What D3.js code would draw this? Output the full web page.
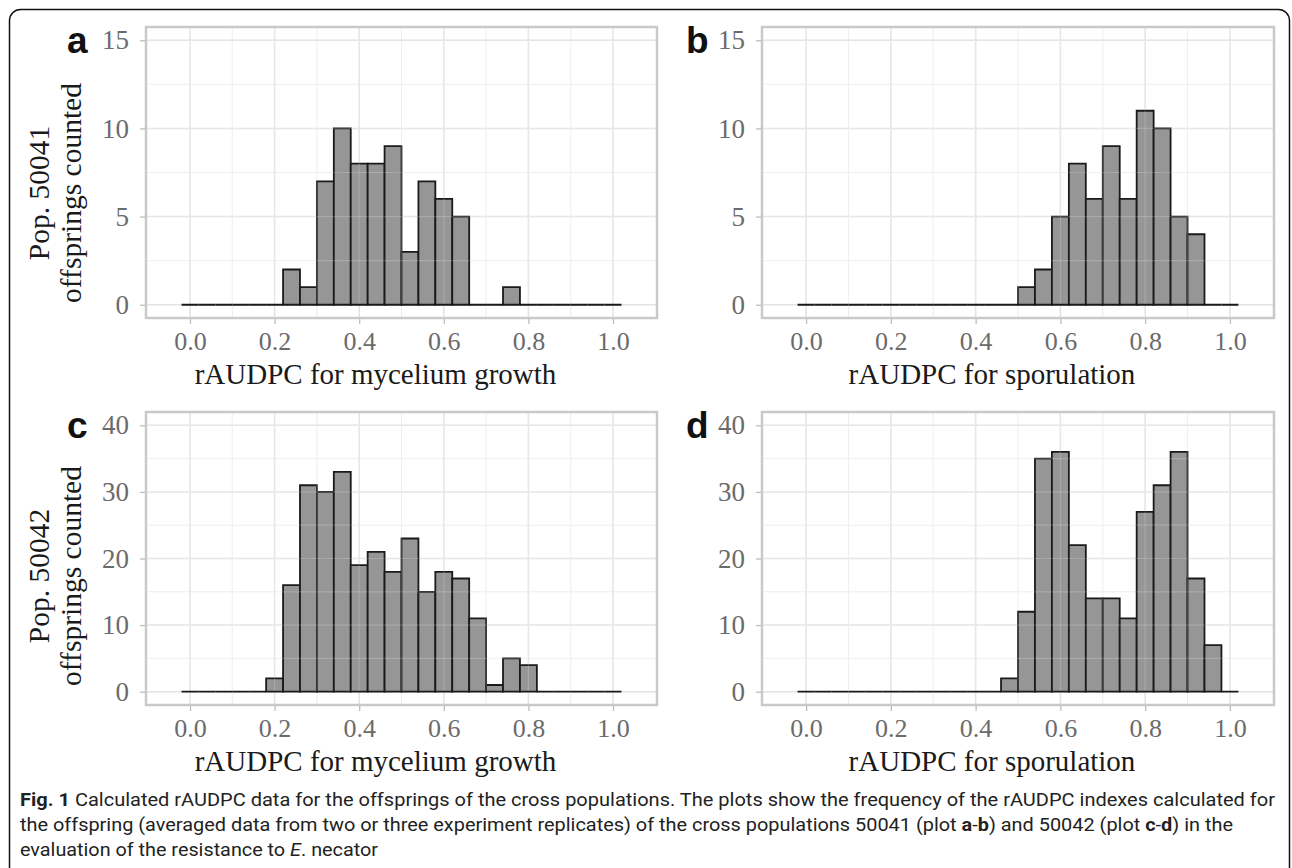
<!DOCTYPE html>
<html>
<head>
<meta charset="utf-8">
<script src="https://cdn.jsdelivr.net/npm/d3@7"></script>
<style>
  body { margin: 0; background: #fff; }
  svg { display: block; }
</style>
</head>
<body>
<div id="chart"></div>
<script>
// histogram bins: centres 0.00 .. 1.00, width 0.04
var binCenters = [0.00, 0.04, 0.08, 0.12, 0.16, 0.20, 0.24, 0.28, 0.32, 0.36, 0.40, 0.44, 0.48,
                  0.52, 0.56, 0.60, 0.64, 0.68, 0.72, 0.76, 0.80, 0.84, 0.88, 0.92, 0.96, 1.00];
var binWidth = 0.04;

// counts per bin
var countsA = [0,0,0,0,0,0,2,1,7,10,8,8,9,3,7,6,5,0,0,1,0,0,0,0,0,0];
var countsB = [0,0,0,0,0,0,0,0,0,0,0,0,0,1,2,5,8,6,9,6,11,10,5,4,0,0];
var countsC = [0,0,0,0,0,2,16,31,30,33,19,21,18,23,15,18,17,11,1,5,4,0,0,0,0,0];
var countsD = [0,0,0,0,0,0,0,0,0,0,0,0,2,12,35,36,22,14,14,11,27,31,36,17,7,0];

var xTicks = [0, 0.2, 0.4, 0.6, 0.8, 1.0];
var xMinor = [0.1, 0.3, 0.5, 0.7, 0.9];
var yTicksTop = [0, 5, 10, 15];
var yTicksBottom = [0, 10, 20, 30, 40];

var panelLetters = ["a", "b", "c", "d"];
var xTitles = ["rAUDPC for mycelium growth", "rAUDPC for sporulation"];
var yTitles = [["Pop. 50041", "offsprings counted"], ["Pop. 50042", "offsprings counted"]];

var width = 1292, height = 868;

var svg = d3.select("#chart").append("svg")
  .attr("width", width)
  .attr("height", height);

// outer frame
svg.append("rect")
  .attr("x", 9.5).attr("y", 9.5)
  .attr("width", 1280).attr("height", 920)
  .attr("rx", 11)
  .style("fill", "none")
  .style("stroke", "#111")
  .style("stroke-width", 1.5);

var serif = "'Liberation Serif', 'Times New Roman', serif";

var cols = [{left: 146, right: 657}, {left: 762, right: 1274}];
var rows = [{top: 27, bottom: 318, max: 15, ticks: yTicksTop, minorStep: 2.5, ytitle: 193},
            {top: 412, bottom: 705, max: 40, ticks: yTicksBottom, minorStep: 5, ytitle: 576}];

var panels = [
  {col: 0, row: 0, counts: countsA, letter: panelLetters[0]},
  {col: 1, row: 0, counts: countsB, letter: panelLetters[1]},
  {col: 0, row: 1, counts: countsC, letter: panelLetters[2]},
  {col: 1, row: 1, counts: countsD, letter: panelLetters[3]}
];

panels.forEach(function(p) {
  var c = cols[p.col], r = rows[p.row];

  var x = d3.scaleLinear()
    .domain([-0.104, 1.104])
    .range([c.left, c.right]);

  var pad = r.max * 0.05;
  var y = d3.scaleLinear()
    .domain([-pad, r.max + pad])
    .range([r.bottom, r.top]);

  var g = svg.append("g");

  // minor grid
  var yMinor = d3.range(r.minorStep, r.max, r.minorStep * 2);
  g.selectAll(".vminor").data(xMinor).enter().append("line")
    .attr("x1", function(d){ return x(d); }).attr("x2", function(d){ return x(d); })
    .attr("y1", r.top).attr("y2", r.bottom)
    .style("stroke", "#ececec").style("stroke-width", 1);
  g.selectAll(".hminor").data(yMinor).enter().append("line")
    .attr("x1", c.left).attr("x2", c.right)
    .attr("y1", function(d){ return y(d); }).attr("y2", function(d){ return y(d); })
    .style("stroke", "#ececec").style("stroke-width", 1);

  // major grid
  g.selectAll(".vmajor").data(xTicks).enter().append("line")
    .attr("x1", function(d){ return x(d); }).attr("x2", function(d){ return x(d); })
    .attr("y1", r.top).attr("y2", r.bottom)
    .style("stroke", "#e2e2e2").style("stroke-width", 1.5);
  g.selectAll(".hmajor").data(r.ticks).enter().append("line")
    .attr("x1", c.left).attr("x2", c.right)
    .attr("y1", function(d){ return y(d); }).attr("y2", function(d){ return y(d); })
    .style("stroke", "#e2e2e2").style("stroke-width", 1.5);

  // bars (paths so that empty bins still draw their baseline)
  var bins = binCenters.map(function(ctr, i) {
    return {x0: ctr - binWidth / 2, x1: ctr + binWidth / 2, n: p.counts[i]};
  });
  g.selectAll(".bar").data(bins).enter().append("path")
    .attr("d", function(d) {
      return "M" + x(d.x0) + "," + y(0) + "V" + y(d.n) + "H" + x(d.x1) + "V" + y(0) + "Z";
    })
    .style("fill", "#969696")
    .style("stroke", "#1a1a1a")
    .style("stroke-width", 1.8)
    .style("stroke-linejoin", "miter");

  // faint grid showing through the bars
  g.selectAll(".vover").data(xTicks.concat(xMinor)).enter().append("line")
    .attr("x1", function(d){ return x(d); }).attr("x2", function(d){ return x(d); })
    .attr("y1", r.top).attr("y2", y(0) - 1)
    .style("stroke", "#fff").style("stroke-opacity", 0.18).style("stroke-width", 1.2);
  g.selectAll(".hover").data(r.ticks.concat(yMinor).filter(function(d){ return d > 0; }))
    .enter().append("line")
    .attr("x1", c.left).attr("x2", c.right)
    .attr("y1", function(d){ return y(d); }).attr("y2", function(d){ return y(d); })
    .style("stroke", "#fff").style("stroke-opacity", 0.18).style("stroke-width", 1.2);

  // panel border
  g.append("rect")
    .attr("x", c.left).attr("y", r.top)
    .attr("width", c.right - c.left).attr("height", r.bottom - r.top)
    .style("fill", "none")
    .style("stroke", "#c9c9c9")
    .style("stroke-width", 2.5);

  // x axis
  var xAxis = d3.axisBottom(x).tickValues(xTicks).tickSize(5).tickPadding(8)
    .tickFormat(d3.format(".1f"));
  var xa = g.append("g")
    .attr("transform", "translate(0," + (r.bottom + 1) + ")")
    .call(xAxis);
  xa.select(".domain").remove();
  xa.selectAll(".tick line").style("stroke", "#bdbdbd").style("stroke-width", 1.3);
  xa.selectAll(".tick text")
    .style("font-family", serif).style("font-size", "26px").style("fill", "#6b6b6b");

  // y axis
  var yAxis = d3.axisLeft(y).tickValues(r.ticks).tickSize(5).tickPadding(11)
    .tickFormat(d3.format("d"));
  var ya = g.append("g")
    .attr("transform", "translate(" + (c.left - 1) + ",0)")
    .call(yAxis);
  ya.select(".domain").remove();
  ya.selectAll(".tick line").style("stroke", "#bdbdbd").style("stroke-width", 1.3);
  ya.selectAll(".tick text")
    .style("font-family", serif).style("font-size", "27px").style("fill", "#6b6b6b");

  // x title
  g.append("text")
    .attr("x", (c.left + c.right) / 2 - 26)
    .attr("y", r.bottom + 66)
    .attr("text-anchor", "middle")
    .style("font-family", serif).style("font-size", "29px").style("fill", "#1a1a1a")
    .text(xTitles[p.col]);

  // panel letter
  g.append("text")
    .attr("x", p.col === 0 ? 67 : 686)
    .attr("y", r.top + 26)
    .style("font-family", "'Liberation Sans', Arial, sans-serif")
    .style("font-weight", "bold")
    .style("font-size", "37px")
    .style("fill", "#111")
    .text(p.letter);

  // y title (left column only)
  if (p.col === 0) {
    var yt = g.append("text")
      .attr("transform", "translate(49," + r.ytitle + ") rotate(-90)")
      .attr("text-anchor", "middle")
      .style("font-family", serif).style("font-size", "29.5px").style("fill", "#1a1a1a");
    yt.append("tspan").attr("x", 0).attr("y", 0).text(yTitles[p.row][0]);
    yt.append("tspan").attr("x", 0).attr("y", 32).text(yTitles[p.row][1]);
  }
});

// caption
var capFont = "Roboto, 'Open Sans', sans-serif";
var cap1 = svg.append("text")
  .attr("x", 20).attr("y", 806)
  .attr("textLength", 1255).attr("lengthAdjust", "spacingAndGlyphs")
  .style("font-family", capFont).style("font-size", "18px").style("fill", "#222");
cap1.append("tspan").style("font-weight", "bold").text("Fig. 1");
cap1.append("tspan").text(" Calculated rAUDPC data for the offsprings of the cross populations. The plots show the frequency of the rAUDPC indexes calculated for");

var cap2 = svg.append("text")
  .attr("x", 20).attr("y", 831)
  .attr("textLength", 1213).attr("lengthAdjust", "spacingAndGlyphs")
  .style("font-family", capFont).style("font-size", "18px").style("fill", "#222");
cap2.append("tspan").text("the offspring (averaged data from two or three experiment replicates) of the cross populations 50041 (plot ");
cap2.append("tspan").style("font-weight", "bold").text("a");
cap2.append("tspan").text("-");
cap2.append("tspan").style("font-weight", "bold").text("b");
cap2.append("tspan").text(") and 50042 (plot ");
cap2.append("tspan").style("font-weight", "bold").text("c");
cap2.append("tspan").text("-");
cap2.append("tspan").style("font-weight", "bold").text("d");
cap2.append("tspan").text(") in the");

var cap3 = svg.append("text")
  .attr("x", 20).attr("y", 856)
  .attr("textLength", 358).attr("lengthAdjust", "spacingAndGlyphs")
  .style("font-family", capFont).style("font-size", "18px").style("fill", "#222");
cap3.append("tspan").text("evaluation of the resistance to ");
cap3.append("tspan").style("font-style", "italic").text("E");
cap3.append("tspan").text(". necator");
</script>
</body>
</html>
